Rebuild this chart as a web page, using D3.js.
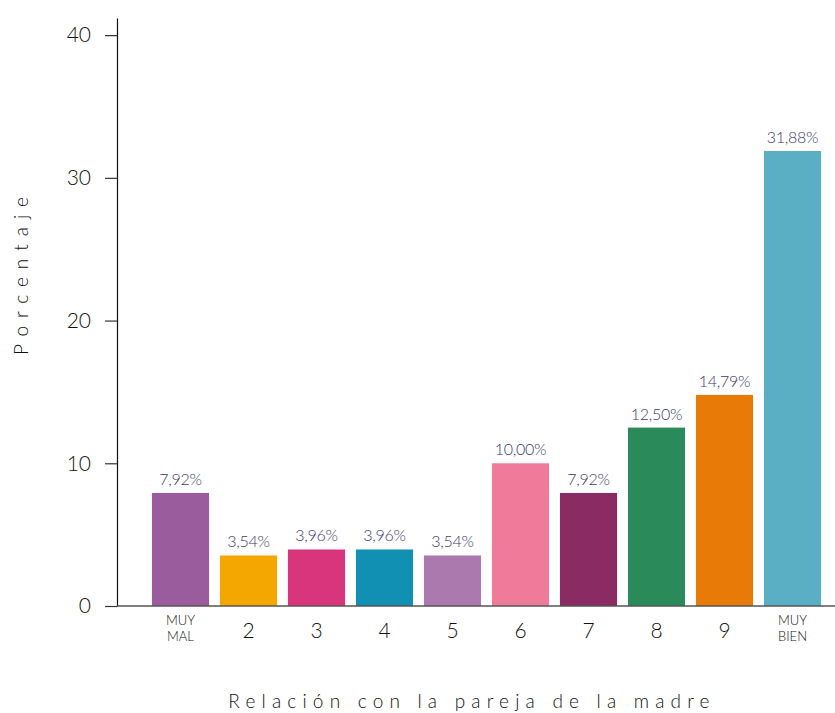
<!DOCTYPE html>
<html>
<head>
<meta charset="utf-8">
<script src="https://cdn.jsdelivr.net/npm/d3@7"></script>
<style>
  body { margin: 0; background: #fff; }
  svg text { font-family: "Lato", "Open Sans", sans-serif; }
</style>
</head>
<body>
<svg id="chart" width="835" height="713"></svg>
<script>
// Categories (x axis), percentages, bar colours and y tick values
const categories = ["MUY MAL", "2", "3", "4", "5", "6", "7", "8", "9", "MUY BIEN"];
const values = [7.92, 3.54, 3.96, 3.96, 3.54, 10.00, 7.92, 12.50, 14.79, 31.88];
const colors = ["#9b5c9e", "#f4a700", "#d9357c", "#1190b3", "#ab79ad",
                "#ef7a99", "#8a2b63", "#2b8a5a", "#e87a08", "#5aafc5"];
const yTicks = [0, 10, 20, 30, 40];

const svg = d3.select("#chart");
const plotLeft = 117, plotBottom = 606, plotTop = 18;

const x = d3.scaleBand()
  .domain(categories)
  .range([146.5, 826.5])
  .paddingInner(0.16)
  .paddingOuter(0.08);

const y = d3.scaleLinear()
  .domain([0, 41.2])
  .range([plotBottom, plotTop]);

// Bars
svg.append("g").selectAll("rect")
  .data(values)
  .join("rect")
  .attr("x", (d, i) => x(categories[i]))
  .attr("y", d => y(d))
  .attr("width", x.bandwidth())
  .attr("height", d => y(0) - y(d))
  .attr("fill", (d, i) => colors[i]);

// Value labels
const fmt = d => d.toFixed(2).replace(".", ",") + "%";
svg.append("g").selectAll("text")
  .data(values)
  .join("text")
  .attr("x", (d, i) => x(categories[i]) + x.bandwidth() / 2)
  .attr("y", d => y(d) - 8)
  .attr("text-anchor", "middle")
  .attr("font-size", 16)
  .attr("font-weight", 300)
  .attr("letter-spacing", -0.3)
  .attr("fill", "#3e3a6c")
  .text(fmt);

// Y axis
const yAxis = svg.append("g")
  .attr("transform", `translate(${plotLeft},0)`)
  .call(d3.axisLeft(y).tickValues(yTicks).tickSize(12).tickPadding(14).tickSizeOuter(0));
yAxis.select(".domain").attr("stroke", "#111").attr("stroke-width", 1.2);
yAxis.selectAll(".tick line").attr("stroke", "#333").attr("stroke-width", 1.2);
yAxis.selectAll(".tick text")
  .attr("font-size", 21)
  .attr("font-weight", 300)
  .attr("fill", "#111")
  .style("font-family", "Lato, sans-serif");

// X axis baseline
svg.append("line")
  .attr("x1", plotLeft).attr("x2", 835)
  .attr("y1", y(0)).attr("y2", y(0))
  .attr("stroke", "#555").attr("stroke-width", 1.5);

// X tick labels (multi-word labels split over two lines)
const xLabels = svg.append("g");
categories.forEach(d => {
  const cx = x(d) + x.bandwidth() / 2;
  const words = d.split(" ");
  if (words.length > 1) {
    words.forEach((w, k) => {
      xLabels.append("text")
        .attr("x", cx)
        .attr("y", 625 + k * 15.5)
        .attr("text-anchor", "middle")
        .attr("font-size", 13)
        .attr("font-weight", 300)
        .attr("fill", "#111")
        .text(w);
    });
  } else {
    xLabels.append("text")
      .attr("x", cx)
      .attr("y", 638)
      .attr("text-anchor", "middle")
      .attr("font-size", 21)
      .attr("font-weight", 300)
      .attr("fill", "#111")
      .text(d);
  }
});

// Axis titles
svg.append("text")
  .attr("x", 472).attr("y", 708)
  .attr("text-anchor", "middle")
  .attr("font-size", 19)
  .attr("font-weight", 300)
  .attr("letter-spacing", 6.2)
  .attr("fill", "#111")
  .text("Relación con la pareja de la madre");

svg.append("text")
  .attr("transform", "translate(28,272) rotate(-90)")
  .attr("text-anchor", "middle")
  .attr("font-size", 19)
  .attr("font-weight", 300)
  .attr("letter-spacing", 8)
  .attr("fill", "#111")
  .text("Porcentaje");
</script>
</body>
</html>
